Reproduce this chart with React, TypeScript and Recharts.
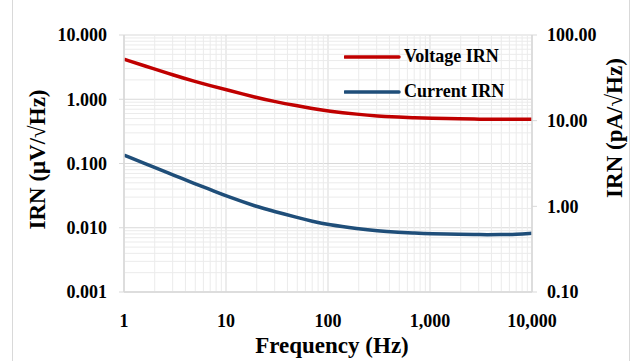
import React from 'react';
import {
  LineChart, Line, XAxis, YAxis, CartesianGrid, ReferenceLine, Legend,
} from 'recharts';

const frequencies = [1, 2, 3, 5, 7, 10, 20, 30, 50, 70, 100, 200, 300, 500, 700, 1000, 2000, 3000, 5000, 7000, 10000];
const voltageIRN = [4.2, 2.95, 2.4, 1.88, 1.63, 1.41, 1.06, 0.92, 0.79, 0.72, 0.655, 0.58, 0.55, 0.525, 0.513, 0.505, 0.495, 0.49, 0.488, 0.488, 0.49];
const currentIRN = [3.97, 2.84, 2.34, 1.83, 1.57, 1.32, 0.99, 0.87, 0.74, 0.67, 0.61, 0.545, 0.517, 0.497, 0.487, 0.478, 0.47, 0.467, 0.467, 0.472, 0.485];

const xTicks = [1, 10, 100, 1000, 10000];
const leftTicks = [0.001, 0.01, 0.1, 1, 10];
const rightTicks = [0.1, 1, 10, 100];

const seriesNames = ['Voltage IRN', 'Current IRN'];
const seriesColors = ['#C00000', '#1F4E79'];

const data = frequencies.map((f, i) => ({ f, v: voltageIRN[i], c: currentIRN[i] }));

const minorX: number[] = [];
for (let d = 1; d < 10000; d *= 10) for (let k = 2; k <= 9; k++) minorX.push(k * d);
const minorY: number[] = [];
for (let d = 0.001; d < 9; d *= 10) for (let k = 2; k <= 9; k++) minorY.push(Number((k * d).toPrecision(3)));

const FONT = "'Liberation Serif', 'Times New Roman', serif";
const tickStyle = { fontFamily: FONT, fontWeight: 700, fontSize: 18, fill: '#000' };

const LegendContent = (props: any) => {
  const payload = [...(props.payload || [])].sort(
    (a: any, b: any) => seriesNames.indexOf(a.value) - seriesNames.indexOf(b.value)
  );
  return (
    <div style={{ fontFamily: FONT, fontWeight: 700, fontSize: 18, color: '#000' }}>
      {payload.map((p: any, i: number) => (
        <div key={i} style={{ display: 'flex', alignItems: 'center', height: 35 }}>
          <svg width={58} height={6} style={{ display: 'block' }}>
            <line x1={1} y1={3} x2={55} y2={3} stroke={p.color} strokeWidth={3.5} strokeLinecap="round" />
          </svg>
          <span style={{ marginLeft: 2 }}>{p.value}</span>
        </div>
      ))}
    </div>
  );
};

const LeftTitle = (props: any) => {
  const vb = props.viewBox;
  const cx = vb.x + 37;
  const cy = vb.y + vb.height / 2 - 4;
  return (
    <text x={cx} y={cy} transform={`rotate(-90, ${cx}, ${cy})`} textAnchor="middle" dominantBaseline="central"
      style={{ fontFamily: FONT, fontWeight: 700, fontSize: 23, fill: '#000' }}>
      IRN (μV/√Hz)
    </text>
  );
};

const RightTitle = (props: any) => {
  const vb = props.viewBox;
  const cx = vb.x + 82;
  const cy = vb.y + 93;
  return (
    <text x={cx} y={cy} transform={`rotate(-90, ${cx}, ${cy})`} textAnchor="middle" dominantBaseline="central"
      style={{ fontFamily: FONT, fontWeight: 700, fontSize: 23, fill: '#000' }}>
      IRN (pA/√Hz)
    </text>
  );
};

const BottomTitle = (props: any) => {
  const vb = props.viewBox;
  const cx = vb.x + vb.width / 2 + 4;
  const cy = vb.y + 61;
  return (
    <text x={cx} y={cy} textAnchor="middle"
      style={{ fontFamily: FONT, fontWeight: 700, fontSize: 23, fill: '#000' }}>
      Frequency (Hz)
    </text>
  );
};

export default function App() {
  return (
    <div style={{ position: 'absolute', left: 0, top: 0, width: 636, height: 361, background: '#fff' }}>
      <div style={{ position: 'absolute', left: 12, top: 0, width: 618, height: 361, borderLeft: '1px solid #d9d9d9', borderRight: '1px solid #d9d9d9', boxSizing: 'border-box' }} />
      <LineChart width={636} height={361} data={data} margin={{ top: 35, right: 0, bottom: 0, left: 0 }}>
        {minorX.map((v) => (
          <ReferenceLine key={'mx' + v} x={v} yAxisId="left" stroke="#ebebeb" strokeWidth={1} ifOverflow="hidden" />
        ))}
        {minorY.map((v) => (
          <ReferenceLine key={'my' + v} y={v} yAxisId="left" stroke="#ebebeb" strokeWidth={1} ifOverflow="hidden" />
        ))}
        <CartesianGrid yAxisId="left" stroke="#d9d9d9" strokeWidth={1} />
        <XAxis
          dataKey="f" type="number" scale="log" domain={[1, 10000]} ticks={xTicks} allowDataOverflow
          tickFormatter={(v: number) => v.toLocaleString('en-US')}
          tick={tickStyle} tickLine={false} tickMargin={16} height={69}
          axisLine={{ stroke: '#d9d9d9', strokeWidth: 1.5 }}
          label={<BottomTitle />}
        />
        <YAxis
          yAxisId="left" orientation="left" type="number" scale="log" domain={[0.001, 10]} ticks={leftTicks} allowDataOverflow
          tickFormatter={(v: number) => v.toFixed(3)}
          tick={tickStyle} tickSize={5} tickMargin={12} width={124}
          axisLine={{ stroke: '#d9d9d9', strokeWidth: 1.5 }} tickLine={{ stroke: '#d9d9d9' }}
          label={<LeftTitle />}
        />
        <YAxis
          yAxisId="right" orientation="right" type="number" scale="log" domain={[0.1, 100]} ticks={rightTicks} allowDataOverflow
          tickFormatter={(v: number) => v.toFixed(2)}
          tick={tickStyle} tickSize={5} tickMargin={10} width={104}
          axisLine={{ stroke: '#d9d9d9', strokeWidth: 1.5 }} tickLine={{ stroke: '#d9d9d9' }}
          label={<RightTitle />}
        />
        <Line yAxisId="left" dataKey="v" name={seriesNames[0]} stroke={seriesColors[0]} strokeWidth={3.5} dot={false} type="basis" isAnimationActive={false} />
        <Line yAxisId="right" dataKey="c" name={seriesNames[1]} stroke={seriesColors[1]} strokeWidth={3.5} dot={false} type="basis" isAnimationActive={false} />
        <Legend content={<LegendContent />} layout="vertical" verticalAlign="middle" align="center"
          wrapperStyle={{ position: 'absolute', left: 344, top: 39, width: 200 }} />
      </LineChart>
    </div>
  );
}
